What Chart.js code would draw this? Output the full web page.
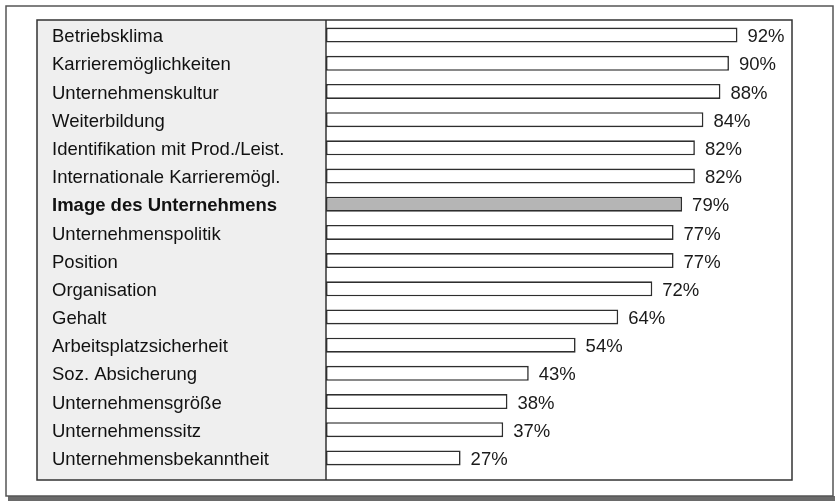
<!DOCTYPE html>
<html>
<head>
<meta charset="utf-8">
<script src="https://cdn.jsdelivr.net/npm/chart.js@4.4.0/dist/chart.umd.min.js"></script>
<style>
html,body{margin:0;padding:0;background:#fff;}
#wrap{width:836px;height:504px;position:relative;}
</style>
</head>
<body>
<div id="wrap"><canvas id="c" width="836" height="504"></canvas></div>
<script>
const categories = [
  "Betriebsklima",
  "Karrieremöglichkeiten",
  "Unternehmenskultur",
  "Weiterbildung",
  "Identifikation mit Prod./Leist.",
  "Internationale Karrieremögl.",
  "Image des Unternehmens",
  "Unternehmenspolitik",
  "Position",
  "Organisation",
  "Gehalt",
  "Arbeitsplatzsicherheit",
  "Soz. Absicherung",
  "Unternehmensgröße",
  "Unternehmenssitz",
  "Unternehmensbekanntheit"
];
const values = [92, 90, 88, 84, 82, 82, 79, 77, 77, 72, 64, 54, 43, 38, 37, 27];
const valueLabels = ["92%","90%","88%","84%","82%","82%","79%","77%","77%","72%","64%","54%","43%","38%","37%","27%"];
const highlightIndex = 6;

const FONT = '"Liberation Sans", Arial, sans-serif';
const AXIS_MIN = -4.6, AXIS_MAX = 104.8;

const framePlugin = {
  id: 'frame',
  beforeDraw(chart) {
    const ctx = chart.ctx;
    const ca = chart.chartArea;
    ctx.save();
    ctx.fillStyle = '#ffffff';
    ctx.fillRect(0, 0, chart.width, chart.height);
    // outer frame with bottom shadow
    ctx.fillStyle = '#6a6a6a';
    ctx.fillRect(8, 496, 827, 5);
    ctx.strokeStyle = '#555';
    ctx.lineWidth = 1.5;
    ctx.strokeRect(6, 6, 827, 490);
    // label panel
    ctx.fillStyle = '#efefef';
    ctx.fillRect(37, 20, ca.left - 37, 460);
    // inner frame
    ctx.strokeStyle = '#333';
    ctx.lineWidth = 1.5;
    ctx.strokeRect(37, 20, ca.right - 37, 460);
    ctx.beginPath();
    ctx.moveTo(ca.left, 20);
    ctx.lineTo(ca.left, 480);
    ctx.stroke();
    ctx.restore();
  },
  afterDatasetsDraw(chart) {
    const ctx = chart.ctx;
    const meta = chart.getDatasetMeta(0);
    ctx.save();
    ctx.font = '18.5px ' + FONT;
    ctx.fillStyle = '#1a1a1a';
    ctx.textAlign = 'left';
    ctx.textBaseline = 'middle';
    meta.data.forEach((bar, i) => {
      ctx.fillText(valueLabels[i], bar.x + 10, bar.y + 2);
    });
    ctx.restore();
  }
};

new Chart(document.getElementById('c'), {
  type: 'bar',
  data: {
    labels: categories,
    datasets: [{
      data: values,
      base: AXIS_MIN,
      backgroundColor: values.map((v, i) => i === highlightIndex ? '#b5b5b5' : '#ffffff'),
      borderColor: '#2e2e2e',
      borderWidth: 1.6,
      borderSkipped: false,
      barPercentage: 0.53,
      categoryPercentage: 1.0
    }]
  },
  options: {
    indexAxis: 'y',
    responsive: false,
    animation: false,
    devicePixelRatio: 1,
    layout: { padding: { left: 52, right: 44, top: 21, bottom: 32 } },
    plugins: { legend: { display: false }, tooltip: { enabled: false } },
    scales: {
      x: {
        display: false,
        min: AXIS_MIN,
        max: AXIS_MAX
      },
      y: {
        grid: { display: false },
        border: { display: false },
        afterFit(scale) { scale.width = 274; },
        ticks: {
          crossAlign: 'far',
          padding: 0,
          labelOffset: 2,
          color: '#111',
          autoSkip: false,
          font: (c) => ({ family: FONT, size: 18.5, weight: c.index === highlightIndex ? 'bold' : 'normal' })
        }
      }
    }
  },
  plugins: [framePlugin]
});
</script>
</body>
</html>
